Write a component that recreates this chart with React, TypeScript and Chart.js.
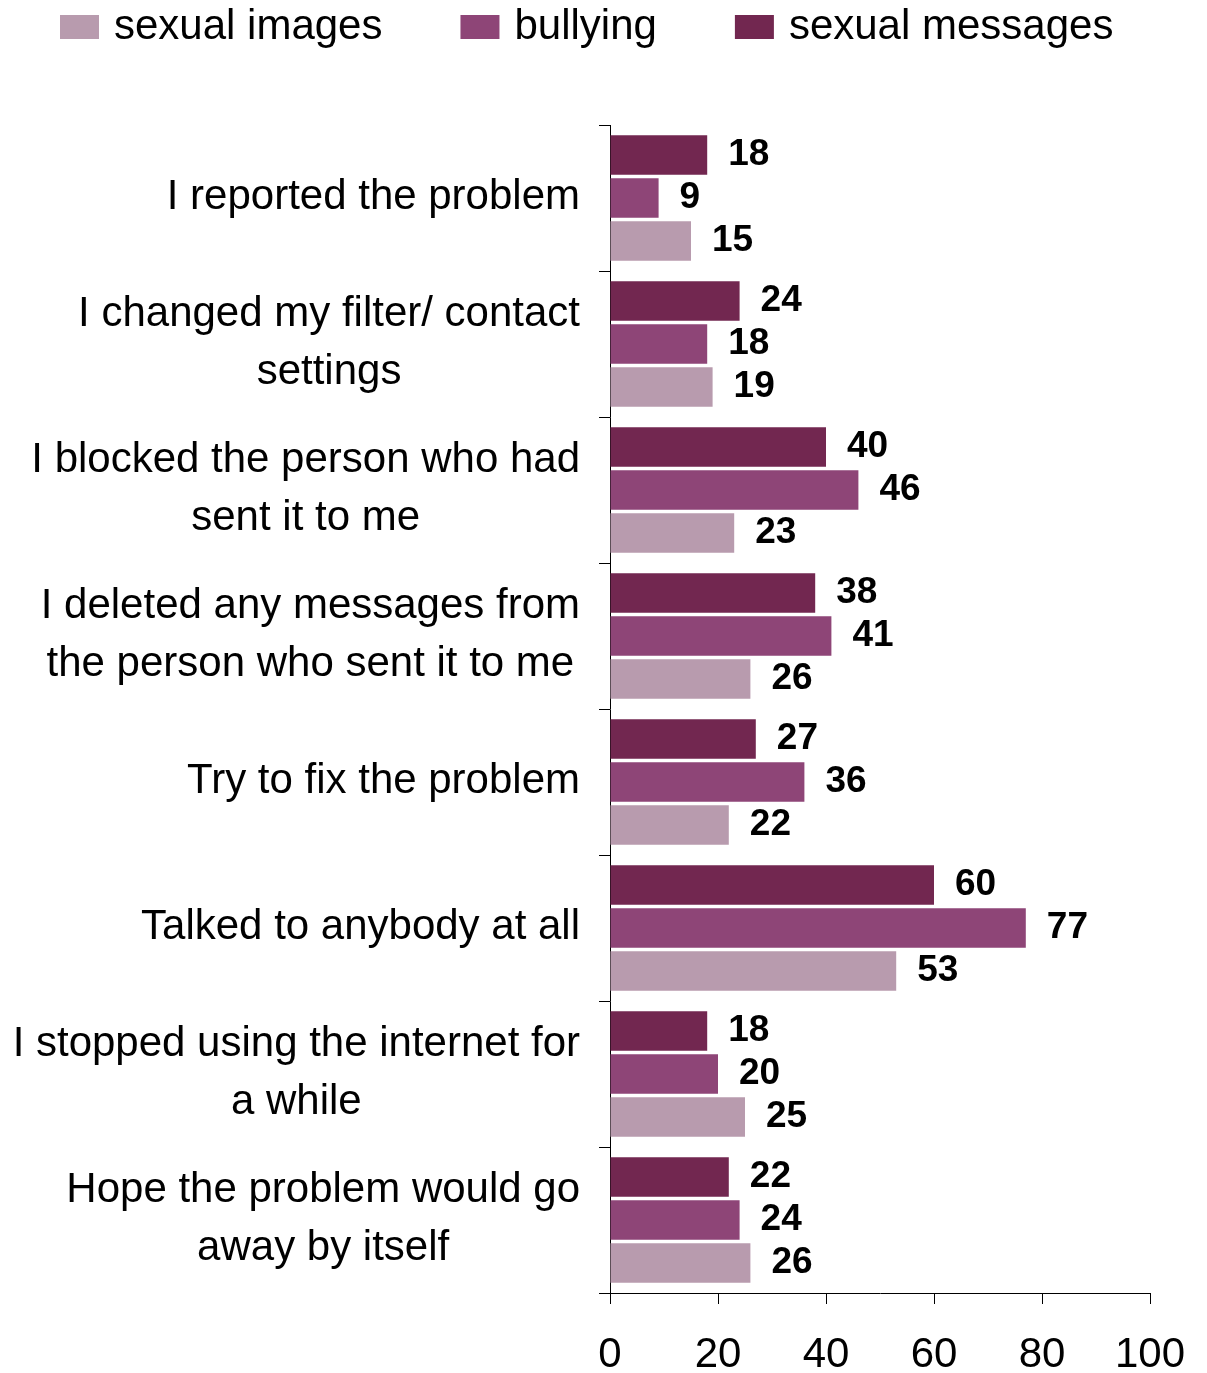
import React, { useEffect, useRef } from "react";
import { Chart, registerables } from "chart.js";

Chart.register(...registerables);

const FONT = '"Liberation Sans", Arial, Helvetica, sans-serif';

const categories: string[][] = [
  ["I reported the problem"],
  ["I changed my filter/ contact", "settings"],
  ["I blocked the person who had", "sent it to me"],
  ["I deleted any messages from", "the person who sent it to me"],
  ["Try to fix the problem"],
  ["Talked to anybody at all"],
  ["I stopped using the internet for", "a while"],
  ["Hope the problem would go", "away by itself"],
];

const sexualMessages = [18, 24, 40, 38, 27, 60, 18, 22];
const bullying = [9, 18, 46, 41, 36, 77, 20, 24];
const sexualImages = [15, 19, 23, 26, 22, 53, 25, 26];

const seriesNames = ["sexual messages", "bullying", "sexual images"];
const seriesColors = ["#722750", "#8E4577", "#B89BAE"];

const xMin = 0;
const xMax = 100;
const xStep = 20;

const yLabelPlugin = {
  id: "yLabelBlocks",
  afterDraw(chart: any) {
    const ctx = chart.ctx;
    const y = chart.scales.y;
    ctx.save();
    ctx.font = `42px ${FONT}`;
    ctx.fillStyle = "#000";
    ctx.textAlign = "center";
    ctx.textBaseline = "alphabetic";
    (chart.data.labels as string[][]).forEach((lines, i) => {
      const cy = y.getPixelForValue(i);
      const w = Math.max(...lines.map((l) => ctx.measureText(l).width));
      const cx = y.right - 30 - w / 2;
      lines.forEach((line, j) => {
        const by = cy + 11 + (j - (lines.length - 1) / 2) * 58;
        ctx.fillText(line, cx, by);
      });
    });
    ctx.restore();
  },
};

const valueLabelPlugin = {
  id: "valueLabels",
  afterDatasetsDraw(chart: any) {
    const ctx = chart.ctx;
    ctx.save();
    ctx.font = `bold 37px ${FONT}`;
    ctx.fillStyle = "#000";
    ctx.textAlign = "left";
    ctx.textBaseline = "alphabetic";
    chart.data.datasets.forEach((ds: any, di: number) => {
      const meta = chart.getDatasetMeta(di);
      meta.data.forEach((bar: any, i: number) => {
        ctx.fillText(String(ds.data[i]), bar.x + 21, bar.y + 10);
      });
    });
    ctx.restore();
  },
};

const legendPlugin = {
  id: "topLegend",
  afterDraw(chart: any) {
    const ctx = chart.ctx;
    ctx.save();
    ctx.font = `42px ${FONT}`;
    ctx.textAlign = "left";
    ctx.textBaseline = "alphabetic";
    let x = 60;
    const items = [...chart.data.datasets].reverse();
    items.forEach((ds: any) => {
      ctx.fillStyle = ds.backgroundColor;
      ctx.fillRect(x, 15, 39, 24);
      ctx.fillStyle = "#000";
      ctx.fillText(ds.label, x + 54, 39);
      x += 54 + ctx.measureText(ds.label).width + 78;
    });
    ctx.restore();
  },
};

export default function App() {
  const ref = useRef<HTMLCanvasElement | null>(null);

  useEffect(() => {
    if (!ref.current) return;
    const seriesData = [sexualMessages, bullying, sexualImages];
    const chart = new Chart(ref.current, {
      type: "bar",
      data: {
        labels: categories,
        datasets: seriesData.map((d, i) => ({
          label: seriesNames[i],
          data: d,
          backgroundColor: seriesColors[i],
          borderWidth: 0,
          categoryPercentage: 0.884,
          barPercentage: 0.915,
        })),
      },
      options: {
        indexAxis: "y",
        animation: false,
        responsive: false,
        devicePixelRatio: 1,
        layout: { padding: { left: 0, right: 57, top: 125, bottom: 0 } },
        plugins: {
          legend: { display: false },
          tooltip: { enabled: false },
        },
        scales: {
          x: {
            position: "bottom",
            min: xMin,
            max: xMax,
            ticks: {
              stepSize: xStep,
              font: { size: 42, family: FONT },
              color: "#000",
              padding: 26,
              maxRotation: 0,
              autoSkip: false,
            },
            grid: { drawOnChartArea: false, tickLength: 11, color: "#000" },
            border: { color: "#000", width: 1 },
            afterFit: (s: any) => {
              s.height = 80;
              s.paddingLeft = 0;
              s.paddingRight = 0;
            },
          },
          y: {
            ticks: { display: false },
            grid: { drawOnChartArea: false, tickLength: 11, color: "#000", offset: true },
            border: { color: "#000", width: 1 },
            afterFit: (s: any) => {
              s.width = 610;
            },
          },
        },
      } as any,
      plugins: [yLabelPlugin, valueLabelPlugin, legendPlugin],
    });
    return () => chart.destroy();
  }, []);

  return (
    <div style={{ position: "absolute", left: 0, top: 0, width: 1207, height: 1373, background: "#fff" }}>
      <canvas ref={ref} width={1207} height={1373} style={{ display: "block", width: 1207, height: 1373 }} />
    </div>
  );
}
